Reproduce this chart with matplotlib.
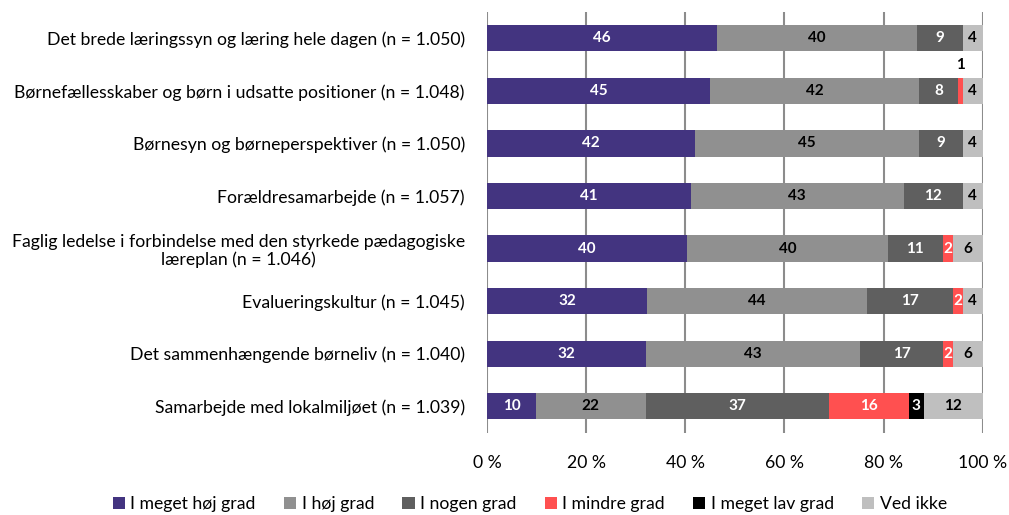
import matplotlib
matplotlib.use("Agg")
import matplotlib.pyplot as plt
import numpy as np

categories = [
    "Det brede læringssyn og læring hele dagen (n = 1.050)",
    "Børnefællesskaber og børn i udsatte positioner (n = 1.048)",
    "Børnesyn og børneperspektiver (n = 1.050)",
    "Forældresamarbejde (n = 1.057)",
    "Faglig ledelse i forbindelse med den styrkede pædagogiske\nlæreplan (n = 1.046)",
    "Evalueringskultur (n = 1.045)",
    "Det sammenhængende børneliv (n = 1.040)",
    "Samarbejde med lokalmiljøet (n = 1.039)",
]
series_names = ["I meget høj grad", "I høj grad", "I nogen grad",
                "I mindre grad", "I meget lav grad", "Ved ikke"]

meget_hoej = [46.4, 45.0, 42.0, 41.1, 40.4, 32.3, 32.0, 9.9]
hoej = [40.4, 42.1, 45.1, 43.0, 40.4, 44.4, 43.3, 22.1]
nogen = [9.2, 7.9, 8.9, 11.9, 11.2, 17.3, 16.7, 37.0]
mindre = [0.0, 1.0, 0.0, 0.0, 2.0, 2.0, 2.0, 16.1]
meget_lav = [0.0, 0.0, 0.0, 0.0, 0.0, 0.0, 0.0, 3.0]
ved_ikke = [4.0, 4.0, 4.0, 4.0, 6.0, 4.0, 6.0, 11.9]

series = [meget_hoej, hoej, nogen, mindre, meget_lav, ved_ikke]
colors = ["#433480", "#909090", "#5f5f5f", "#ff5050", "#000000", "#bfbfbf"]
text_colors = ["white", "black", "white", "white", "white", "black"]
xticks = [0, 20, 40, 60, 80, 100]
xticklabels = ["0 %", "20 %", "40 %", "60 %", "80 %", "100 %"]

plt.rcParams["font.family"] = ["Lato", "DejaVu Sans"]

fig = plt.figure(figsize=(10.09, 5.15), dpi=100)
ax = fig.add_axes([487 / 1009, 1 - 432.5 / 515, (982.7 - 487) / 1009, (432.5 - 12) / 515])

y = np.arange(len(categories))
left = np.zeros(len(categories))
for vals, col, tcol, name in zip(series, colors, text_colors, series_names):
    vals = np.array(vals)
    ax.barh(y, vals, left=left, height=0.5, color=col, label=name, zorder=3)
    for i, (v, l) in enumerate(zip(vals, left)):
        if v >= 1.5:
            ax.text(l + v / 2, i, f"{round(v):d}", ha="center", va="center",
                    color=tcol, fontsize=11, fontweight="bold", zorder=4)
        elif v >= 0.5:
            ax.text(l + v / 2, i - 0.5, f"{round(v):d}", ha="center", va="center",
                    color="black", fontsize=11, fontweight="bold", zorder=4)
    left = left + vals

ax.set_xlim(0, 100)
ax.set_ylim(len(categories) - 0.5, -0.5)
ax.set_yticks(y)
ax.set_yticklabels(categories, fontsize=12.7, linespacing=1.1)
for lbl in ax.get_yticklabels():
    lbl.set_multialignment("center")
ax.set_xticks(xticks)
ax.set_xticklabels(xticklabels, fontsize=12.7)
ax.tick_params(axis="y", length=0, pad=16)
ax.tick_params(axis="x", length=0, pad=16)
ax.grid(axis="x", color="#8c8c8c", linewidth=1.5, zorder=0)
for s in ax.spines.values():
    s.set_visible(False)

handles, labels = ax.get_legend_handles_labels()
fig.legend(handles, labels, loc="center", bbox_to_anchor=(0.525, 1 - 504 / 515),
           ncol=6, frameon=False, fontsize=12.7, handlelength=0.7, handleheight=0.7,
           handletextpad=0.3, columnspacing=1.6)

fig.savefig("out.png", dpi=100)
